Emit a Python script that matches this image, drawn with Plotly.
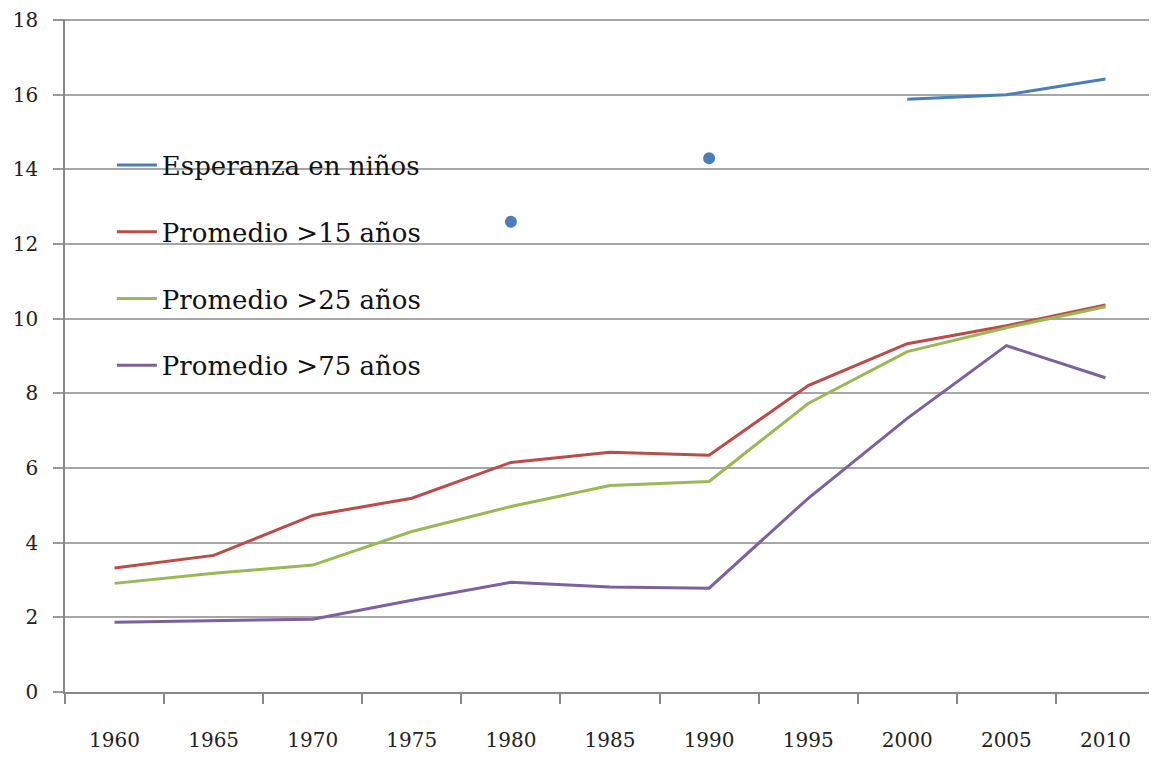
import plotly.graph_objects as go

years = ["1960", "1965", "1970", "1975", "1980", "1985", "1990", "1995", "2000", "2005", "2010"]
esperanza = [None, None, None, None, 12.6, None, 14.3, None, 15.88, 16.0, 16.42]
prom15 = [3.32, 3.66, 4.73, 5.19, 6.15, 6.42, 6.34, 8.21, 9.33, 9.81, 10.37]
prom25 = [2.91, 3.18, 3.40, 4.30, 4.97, 5.53, 5.64, 7.73, 9.12, 9.76, 10.32]
prom75 = [1.87, 1.90, 1.95, 2.46, 2.94, 2.81, 2.78, 5.19, 7.33, 9.28, 8.42]
names = ["Esperanza en niños", "Promedio >15 años", "Promedio >25 años", "Promedio >75 años"]
colors = ["#4A7EBB", "#BE4B48", "#98B954", "#7D60A0"]

font_family = "DejaVu Serif"

# isolated (unconnected) points of the first series, shown as dots
iso_x, iso_y = [], []
for i, v in enumerate(esperanza):
    prev_v = esperanza[i - 1] if i > 0 else None
    next_v = esperanza[i + 1] if i < len(esperanza) - 1 else None
    if v is not None and prev_v is None and next_v is None:
        iso_x.append(years[i])
        iso_y.append(v)

fig = go.Figure()
series = [esperanza, prom15, prom25, prom75]
for k, (vals, name, col) in enumerate(zip(series, names, colors)):
    fig.add_trace(go.Scatter(
        x=years, y=vals, name=name,
        mode="lines",
        line=dict(color=col, width=3),
        connectgaps=False,
        legendgroup=f"g{k}",
    ))

fig.add_trace(go.Scatter(
    x=iso_x, y=iso_y, mode="markers",
    marker=dict(size=12, color=colors[0]),
    showlegend=False, legendgroup="g0", name=names[0],
))

fig.update_layout(
    width=1157, height=759,
    margin=dict(l=57, r=10, t=11, b=75),
    plot_bgcolor="white", paper_bgcolor="white",
    font=dict(family=font_family, color="#222222"),
    showlegend=True,
    legend=dict(
        x=0.043, y=0.818, xanchor="left", yanchor="top",
        bgcolor="rgba(0,0,0,0)",
        font=dict(size=26, family=font_family, color="#111111"),
        tracegroupgap=30,
        traceorder="grouped",
        itemwidth=40,
    ),
    xaxis=dict(
        type="category",
        range=[-0.5, 10.5],
        tickson="boundaries",
        ticks="outside", ticklen=10, tickcolor="#888888", tickwidth=1.5,
        showline=True, linecolor="#888888", linewidth=1.5,
        showgrid=False,
        tickfont=dict(size=20, family=font_family, color="#222222"),
        ticklabelstandoff=29,
        automargin=False,
    ),
    yaxis=dict(
        range=[0, 18.03], tickvals=list(range(0, 19, 2)),
        ticks="outside", ticklen=10, tickcolor="#999999", tickwidth=1.5,
        showline=True, linecolor="#888888", linewidth=1.5,
        showgrid=True, gridcolor="#A6A6A6", gridwidth=1.5,
        zeroline=False,
        tickfont=dict(size=20, family=font_family, color="#222222"),
        ticklabelstandoff=11,
        automargin=False,
    ),
)

fig.write_html("out.html")
